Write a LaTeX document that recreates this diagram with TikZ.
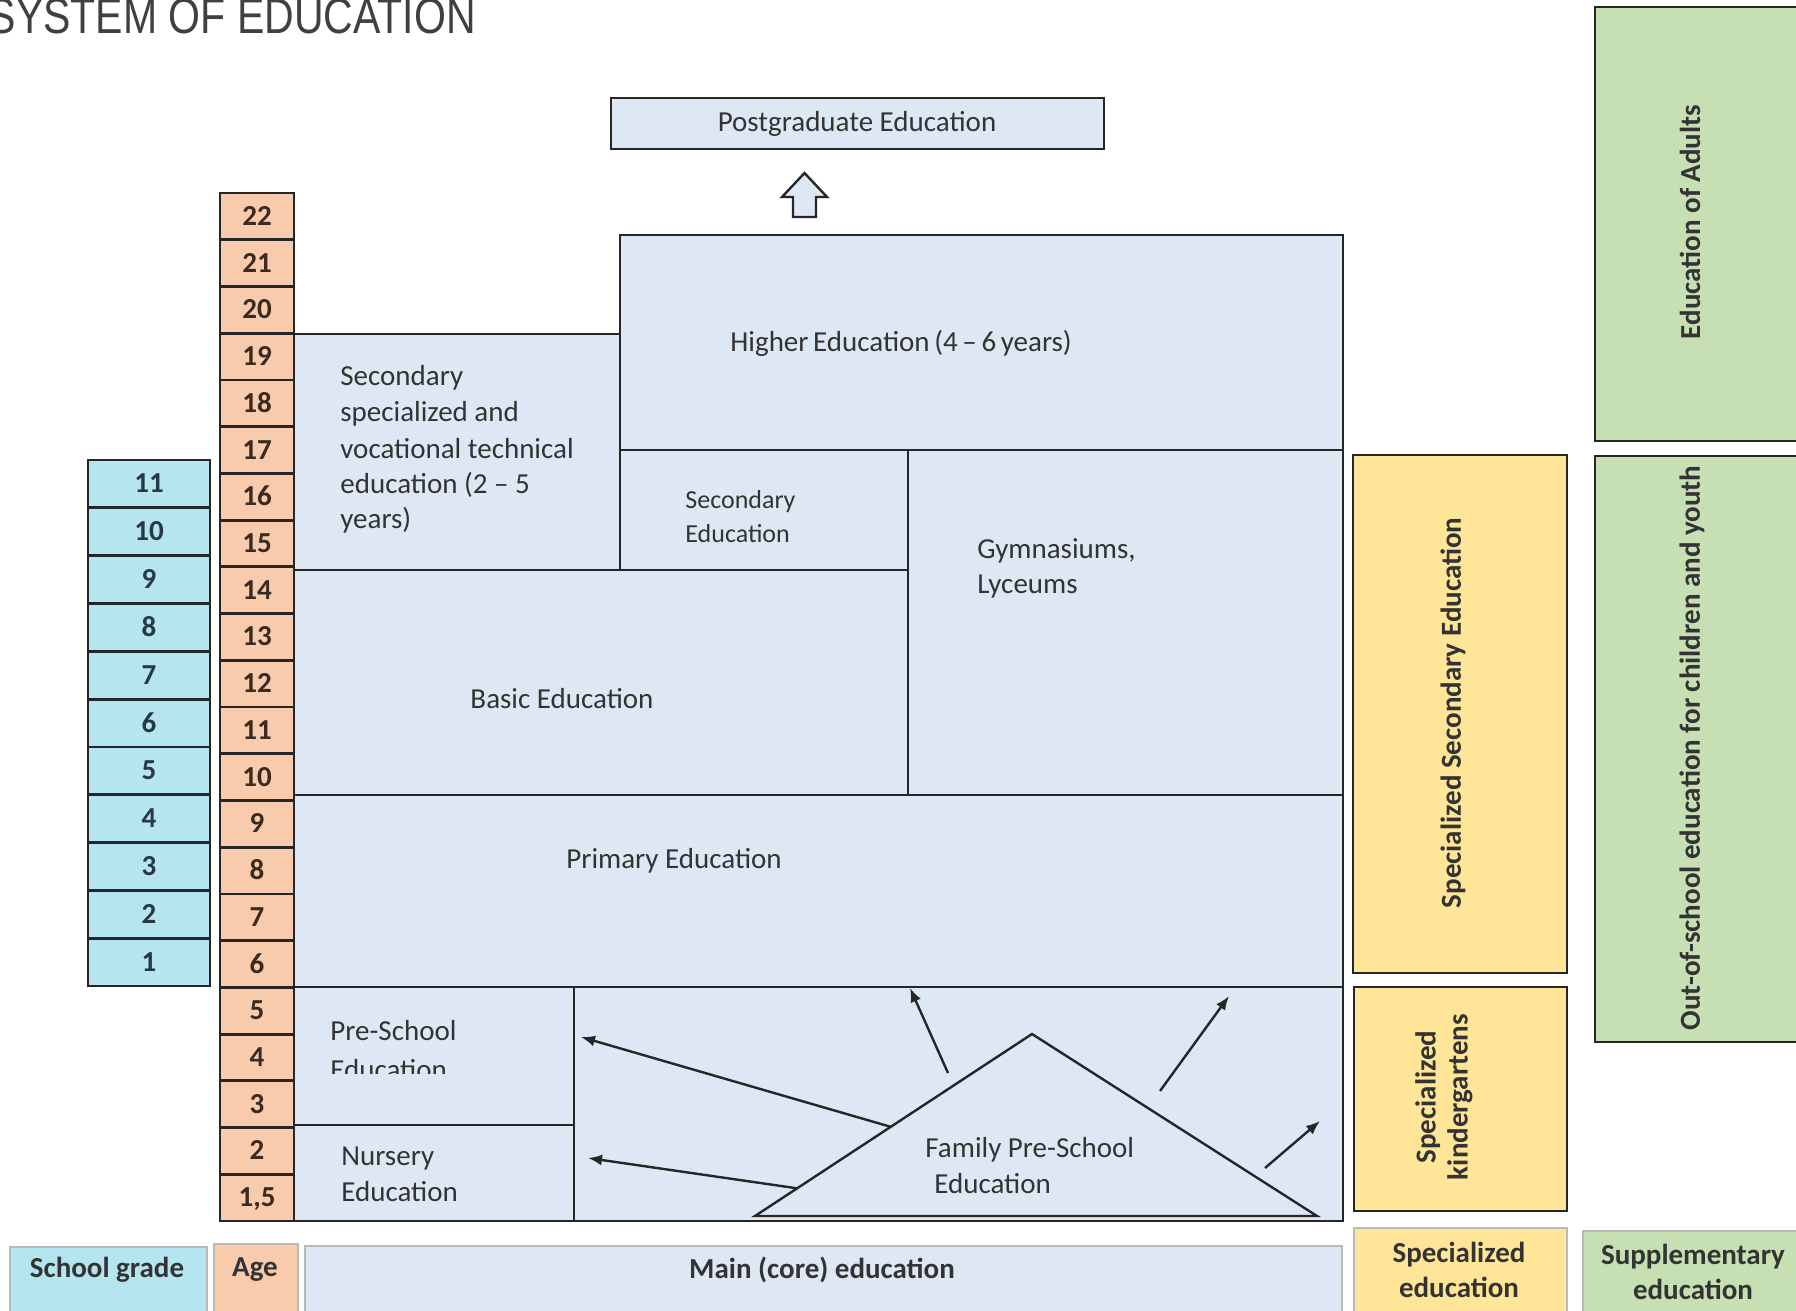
\documentclass[tikz,border=0pt]{standalone}
\usepackage{fontspec}
\setmainfont{Carlito}
\newfontfamily\titlefont[FakeStretch=0.82]{Liberation Sans}
\usetikzlibrary{fit,arrows.meta,calc}
\definecolor{agef}{HTML}{F8CBAD}
\definecolor{gradef}{HTML}{B5E6EF}
\definecolor{mainf}{HTML}{DEE8F4}
\definecolor{yelf}{HTML}{FFE597}
\definecolor{grnf}{HTML}{C6E0B4}
\definecolor{linec}{HTML}{262626}
\definecolor{txtc}{HTML}{333333}
\definecolor{titlec}{HTML}{404040}
\definecolor{agetxt}{HTML}{3A2A20}
\definecolor{gradetxt}{HTML}{263A42}
\newcommand\tightsp{\spaceskip 0.16em\relax}
\begin{document}
\begin{tikzpicture}[x=0.5pt,y=-0.5pt,
  blk/.style={draw=linec, line width=1.4pt, fill=mainf, inner sep=0pt},
  cell/.style={draw=linec, line width=1.4pt, inner sep=0pt},
  num/.style={font=\bfseries\fontsize{14.5}{17}\selectfont, inner sep=0pt, anchor=base},
  side/.style={draw=linec, line width=1.4pt, inner sep=0pt},
  leg/.style={draw=gray!55, line width=0.8pt, inner sep=0pt},
  txt/.style={font=\fontsize{14.5}{18}\selectfont, text=txtc, inner sep=0pt},
  stxt/.style={font=\fontsize{13}{16}\selectfont, text=txtc, inner sep=0pt},
  btxt/.style={font=\bfseries\fontsize{14.5}{17.5}\selectfont, text=txtc, inner sep=0pt, align=center},
  rtxt/.style={font=\bfseries\fontsize{14.5}{16}\selectfont, text=txtc, inner sep=0pt, rotate=90, align=center},
  arr/.style={draw=linec, line width=1.2pt, -{Latex[length=7pt,width=5.5pt]}},
  tri/.style={draw=linec, line width=1.2pt}
]
\useasboundingbox (0,0) rectangle (1796,1311);
\clip (0,0) rectangle (1796,1311);
\fill[white] (0,0) rectangle (1796,1311);

% title
\node[font=\titlefont\fontsize{25}{30}\selectfont, text=titlec, anchor=base east, inner sep=0pt] (title) at (476,34) {SYSTEM OF EDUCATION};

% grade column
\foreach \i in {1,...,11}{
  \pgfmathtruncatemacro\g{12-\i}
  \node[cell, fill=gradef, fit={(88,{460+(\i-1)*47.82}) (210,{460+\i*47.82})}] (grade\g) {};
  \node[num, text=gradetxt] (gradenum\g) at (149,{460+(\i-0.5)*47.82+9}) {\g};
}
% age column
\foreach \a [count=\i] in {22,21,20,19,18,17,16,15,14,13,12,11,10,9,8,7,6,5,4,3,2,{1,5}}{
  \node[cell, fill=agef, fit={(220,{193+(\i-1)*46.73}) (294,{193+\i*46.73})}] (age\i) {};
  \node[num, text=agetxt] (agenum\i) at (257,{193+(\i-0.5)*46.73+9}) {\a};
}

% main blocks
\node[blk, fit={(611,98) (1104,149)}] (postgrad) {};
\node[blk, fit={(620,235) (1343,450)}] (higher) {};
\node[blk, fit={(294,334) (620,570)}] (secspec) {};
\node[blk, fit={(620,450) (908,570)}] (secedu) {};
\node[blk, fit={(908,450) (1343,795)}] (gym) {};
\node[blk, fit={(294,570) (908,795)}] (basic) {};
\node[blk, fit={(294,795) (1343,987)}] (primary) {};
\node[blk, fit={(574,987) (1343,1221)}] (family) {};
\node[blk, fit={(294,987) (574,1125)}] (preschool) {};
\node[blk, fit={(294,1125) (574,1221)}] (nursery) {};

% hollow arrow up (from higher education to postgraduate)
\coordinate (upar) at (804.5,217);
\draw[draw=linec, line width=1.2pt, fill=mainf] (793,217) -- (793,197) -- (782,197) -- (804.5,173) -- (827,197) -- (816,197) -- (816,217) -- cycle;

% texts
\node[txt, anchor=base] (tpost) at (857,132) {Postgraduate Education};
\node[txt, anchor=base west] (thigh) at (730,351) {\tightsp Higher Education (4 – 6 years)};
\node[txt, anchor=base west] (tss1) at (340,385) {Secondary};
\node[txt, anchor=base west] (tss2) at (340,421) {specialized and};
\node[txt, anchor=base west] (tss3) at (340,458) {vocational technical};
\node[txt, anchor=base west] (tss4) at (340,493) {education (2 – 5};
\node[txt, anchor=base west] (tss5) at (340,528) {years)};
\node[stxt, anchor=base west] (tse1) at (685,508) {Secondary};
\node[stxt, anchor=base west] (tse2) at (685,542) {Education};
\node[txt, anchor=base west] (tgy1) at (977,558) {Gymnasiums,};
\node[txt, anchor=base west] (tgy2) at (977,593) {Lyceums};
\node[txt, anchor=base] (tbasic) at (562,708) {Basic Education};
\node[txt, anchor=base west] (tprim) at (566,868) {Primary Education};
\node[txt, anchor=base west] (tpre1) at (330,1040) {Pre-School};
\begin{scope}
  \clip (294,987) rectangle (574,1073);
  \node[txt, anchor=base west] (tpre2) at (330,1079) {Education};
\end{scope}
\node[txt, anchor=base west] (tnur1) at (341,1165) {Nursery};
\node[txt, anchor=base west] (tnur2) at (341,1201) {Education};

% family triangle
\coordinate (tA) at (1032,1034);
\coordinate (tL) at (755,1216);
\coordinate (tR) at (1317,1216);
\draw[tri] (tL) -- (tA) -- (tR) -- cycle;
\node[txt, anchor=base west] (tfam1) at (925,1157) {Family Pre-School};
\node[txt, anchor=base west] (tfam2) at (934,1193) {Education};

% arrows
\coordinate (a1s) at ($(tL)!0.49!(tA)$);
\coordinate (a1e) at (581,1037);
\coordinate (a2s) at ($(tL)!0.152!(tA)$);
\coordinate (a2e) at (588,1158);
\coordinate (a3s) at (948,1073);
\coordinate (a3e) at (910,988);
\coordinate (a4s) at (1160,1091);
\coordinate (a4e) at (1229,996);
\coordinate (a5s) at (1265,1168);
\coordinate (a5e) at (1320,1121);
\draw[arr] (a1s) -- (a1e);
\draw[arr] (a2s) -- (a2e);
\draw[arr] (a3s) -- (a3e);
\draw[arr] (a4s) -- (a4e);
\draw[arr] (a5s) -- (a5e);

% specialized (yellow)
\node[side, fill=yelf, fit={(1353,455) (1567,973)}] (specsec) {};
\node[rtxt] (tspecsec) at (1453,713) {Specialized Secondary Education};
\node[side, fill=yelf, fit={(1354,987) (1567,1211)}] (speckg) {};
\node[rtxt] (tspeckg) at (1444,1097) {Specialized\\kindergartens};

% supplementary (green)
\node[side, fill=grnf, fit={(1595,7) (1810,441)}] (adults) {};
\node[rtxt] (tadults) at (1690,222) {Education of Adults};
\node[side, fill=grnf, fit={(1595,456) (1810,1042)}] (outschool) {};
\node[rtxt] (tout) at (1692,748) {Out-of-school education for children and youth};

% legend
\node[leg, fill=gradef, fit={(10,1247) (207,1340)}] (lgrade) {};
\node[btxt] (tlgrade) at (107,1270) {School grade};
\node[leg, fill=agef, fit={(214,1244) (298,1340)}] (lage) {};
\node[btxt] (tlage) at (255,1270) {Age};
\node[leg, fill=mainf, fit={(305,1246) (1342,1340)}] (lmain) {};
\node[btxt] (tlmain) at (822,1270) {Main (core) education};
\node[leg, fill=yelf, fit={(1354,1228) (1567,1340)}] (lspec) {};
\node[btxt] (tlspec) at (1459,1270) {Specialized\\education};
\node[leg, fill=grnf, fit={(1583,1231) (1810,1340)}] (lsupp) {};
\node[btxt] (tlsupp) at (1693,1272) {Supplementary\\education};
\end{tikzpicture}
\end{document}
